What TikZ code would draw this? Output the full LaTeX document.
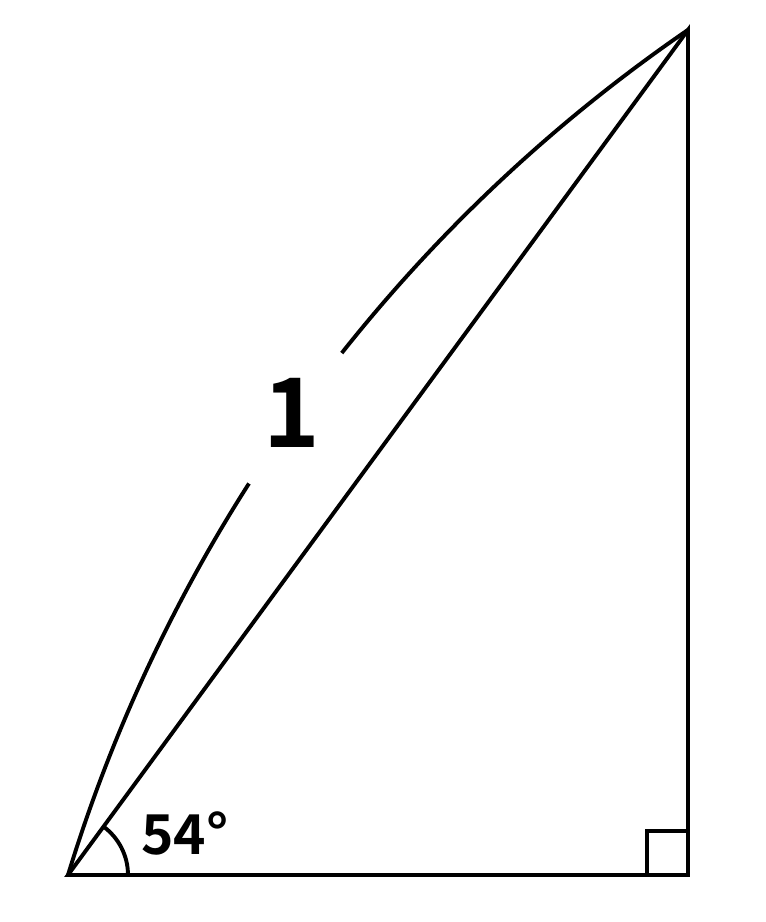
\documentclass[tikz,border=0pt]{standalone}
\usepackage{fontspec}
\newfontfamily\cjk{Noto Sans CJK SC}[BoldFont={Noto Sans CJK SC Bold}]
\begin{document}
\begin{tikzpicture}[x=1pt,y=1pt,
  edge/.style={line width=3.9pt,line join=miter},
  lbl/.style={font=\cjk\bfseries, inner sep=0pt}]
\useasboundingbox (0,0) rectangle (766,922);
\coordinate (A) at (68,47);
\coordinate (B) at (688,892);
\coordinate (C) at (688,47);
\coordinate (O) at (1587,-418);
\draw[edge] (A) -- (C) -- (B) -- cycle;
% right angle mark
\draw[edge] ([xshift=-41pt]C) -- ++(0,44) -- ++(41,0);
% angle arc
\draw[edge] ([xshift=60pt]A) arc[start angle=0,end angle=54,radius=60];
% outer arc with gap
\draw[edge] (A) arc[start angle=163,end angle=147.4,radius=1589];
\draw[edge] ([shift={(141.6:1589)}]O) arc[start angle=141.6,end angle=124.46,radius=1589];
\node[lbl,font=\cjk\bfseries\fontsize{96}{96}\selectfont] (one) at (292,509) {1};
\node[lbl,font=\cjk\bfseries\fontsize{55}{55}\selectfont] (ang) at (185,89) {54°};
\end{tikzpicture}
\end{document}
